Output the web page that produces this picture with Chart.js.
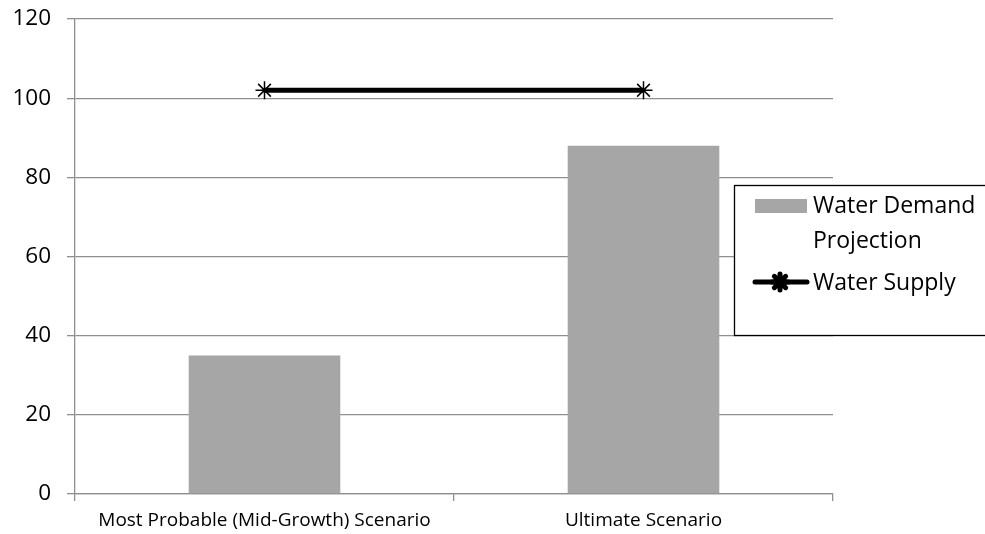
<!DOCTYPE html>
<html>
<head>
<meta charset="utf-8">
<script src="https://cdn.jsdelivr.net/npm/chart.js@4"></script>
<style>
  html, body { margin: 0; padding: 0; background: #fff; }
  #wrap { width: 985px; height: 534px; }
</style>
</head>
<body>
<div id="wrap"><canvas id="c" width="985" height="534"></canvas></div>
<script>
// Scenarios on the category axis
const categories = ['Most Probable (Mid-Growth) Scenario', 'Ultimate Scenario'];
// Projected demand per scenario
const demandValues = [35, 88];
// Available supply, constant across scenarios
const supplyValues = [102, 102];
const demandLabel = ['Water Demand', 'Projection'];
const supplyLabel = 'Water Supply';
const yTickLabels = [0, 20, 40, 60, 80, 100, 120];

const FONT = '"Open Sans", sans-serif';
const GRID = '#8f8f8f';

// Boxed legend at the right, drawn on the canvas
const boxLegend = {
  id: 'boxLegend',
  afterDraw(chart) {
    const ctx = chart.ctx;
    ctx.save();
    ctx.strokeStyle = '#000';
    ctx.lineWidth = 1.3;
    ctx.fillStyle = '#fff';
    ctx.fillRect(734, 185, 260, 150);
    ctx.strokeRect(734.5, 185.5, 260, 150);

    const bar = chart.data.datasets[0];
    const line = chart.data.datasets[1];
    // demand swatch
    ctx.fillStyle = bar.backgroundColor;
    ctx.fillRect(755, 199, 52, 14);
    ctx.fillStyle = '#000';
    ctx.font = '23px ' + FONT;
    ctx.textBaseline = 'middle';
    ctx.textAlign = 'left';
    bar.label.forEach((t, i) => ctx.fillText(t, 813, 206 + i * 35));

    // supply swatch: thick line with star marker
    ctx.strokeStyle = line.borderColor;
    ctx.lineWidth = 5;
    ctx.lineCap = 'round';
    ctx.beginPath();
    ctx.moveTo(755, 282);
    ctx.lineTo(807, 282);
    ctx.stroke();
    Chart.helpers.drawPoint(ctx, {
      pointStyle: 'star', radius: 8, borderWidth: 1.2
    }, 780, 282);
    ctx.fillText(line.label, 813, 283);
    ctx.restore();
  }
};

new Chart(document.getElementById('c'), {
  data: {
    labels: categories,
    datasets: [
      {
        type: 'bar',
        label: demandLabel,
        data: demandValues,
        backgroundColor: '#a6a6a6',
        barPercentage: 0.4,
        categoryPercentage: 1.0,
        order: 2
      },
      {
        type: 'line',
        label: supplyLabel,
        data: supplyValues,
        borderColor: '#000',
        borderWidth: 5,
        pointStyle: 'star',
        pointRadius: 9,
        pointBorderWidth: 1.5,
        pointBorderColor: '#000',
        pointBackgroundColor: '#000',
        order: 1
      }
    ]
  },
  options: {
    responsive: false,
    animation: false,
    layout: { padding: { top: 19, right: 152, bottom: 0, left: 0 } },
    plugins: {
      legend: { display: false },
      tooltip: { enabled: false }
    },
    scales: {
      x: {
        offset: true,
        grid: {
          offset: true,
          drawOnChartArea: false,
          color: GRID,
          lineWidth: 1.3,
          tickLength: 7
        },
        border: { color: GRID, width: 1.3 },
        ticks: {
          color: '#000',
          font: { family: FONT, size: 19 },
          padding: 8,
          maxRotation: 0
        },
        afterFit(s) { s.height = 40; s.paddingLeft = 0; s.paddingRight = 0; }
      },
      y: {
        min: 0,
        max: 120,
        afterBuildTicks(s) { s.ticks = yTickLabels.map(v => ({ value: v })); },
        grid: { color: GRID, lineWidth: 1.3, tickLength: 8 },
        border: { color: GRID, width: 1.3 },
        ticks: {
          color: '#000',
          font: { family: FONT, size: 22.5 },
          padding: 16
        },
        afterFit(s) { s.width = 75; s.paddingTop = 0; s.paddingBottom = 0; }
      }
    }
  },
  plugins: [boxLegend]
});
</script>
</body>
</html>
